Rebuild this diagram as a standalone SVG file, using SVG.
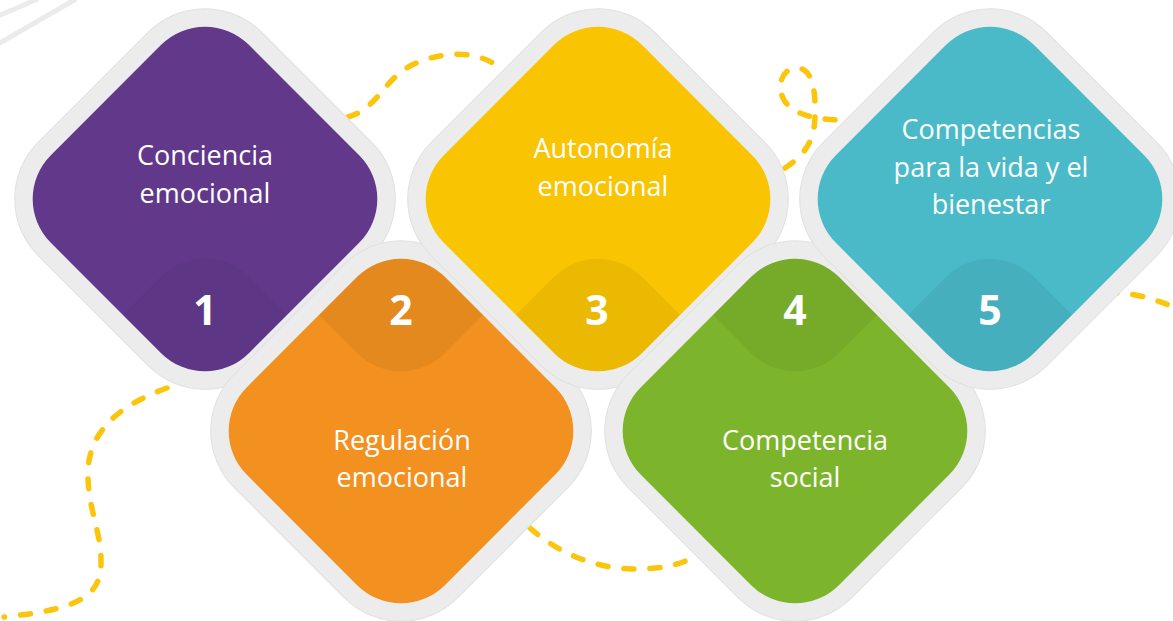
<svg xmlns="http://www.w3.org/2000/svg" width="1173" height="621" viewBox="0 0 1173 621">
<style>
.halo{fill:#ececec;stroke:#e1e1e1;stroke-width:1}
.lens{fill:#000;fill-opacity:0.055}
.lens.soft{fill-opacity:0.035}
.lbl{font-family:"Open Sans","Liberation Sans",sans-serif;font-size:27px;fill:#fff;text-anchor:middle}
.num{font-family:"Open Sans","Liberation Sans",sans-serif;font-size:41px;font-weight:bold;fill:#fff;text-anchor:middle}
.dash{fill:none;stroke:#fac50a;stroke-width:5.5;stroke-linecap:round;stroke-dasharray:10 16}
.deco{fill:none;stroke:#ebebeb;stroke-width:5}
</style>
<defs>
<rect id="shape" x="-140" y="-140" width="280" height="280" rx="62" ry="62" transform="rotate(45)"/>
<rect id="haloShape" x="-158" y="-158" width="316" height="316" rx="80" ry="80" transform="rotate(45)"/>
<clipPath id="c1"><use href="#shape" transform="translate(205,199)"/></clipPath>
<clipPath id="c2"><use href="#shape" transform="translate(401,431)"/></clipPath>
<clipPath id="c3"><use href="#shape" transform="translate(598,199)"/></clipPath>
<clipPath id="c4"><use href="#shape" transform="translate(795,431)"/></clipPath>
<clipPath id="c5"><use href="#shape" transform="translate(990,199)"/></clipPath>
</defs>
<rect width="1173" height="621" fill="#fff"/>
<g id="decor">
<line class="deco" x1="-2" y1="16" x2="38" y2="-1"/>
<line class="deco" x1="-2" y1="44" x2="76" y2="-1"/>
</g>
<g id="connectors">
<path class="dash" d="M348,117 C378,108 382,82 410,66 C440,50 482,50 500,69"/>
<path class="dash" d="M785,168 C805,155 815,140 815,115 C816,90 812,68 797,68 C782,68 776,86 784,100 C792,114 815,120 843,120"/>
<path class="dash" d="M167,388 C120,405 90,430 88,470 C87,510 102,530 101,565 C100,600 70,610 4,617"/>
<path class="dash" d="M530,528 C560,555 600,570 640,569 C665,568 680,565 693,557"/>
<path class="dash" d="M1107,293 C1130,292 1150,297 1176,308"/>
</g>
<g id="node1">
<use href="#haloShape" class="halo" transform="translate(205,199)"/>
<use href="#shape" fill="#61388a" transform="translate(205,199)"/>
<g clip-path="url(#c1)"><use href="#shape" class="lens soft" transform="translate(205,431)"/></g>
<text class="lbl" x="205" y="165">Conciencia</text>
<text class="lbl" x="205" y="203">emocional</text>
<text class="num" x="205" y="325">1</text>
</g>
<g id="node2">
<use href="#haloShape" class="halo" transform="translate(401,431)"/>
<use href="#shape" fill="#f29120" transform="translate(401,431)"/>
<g clip-path="url(#c2)"><use href="#shape" class="lens" transform="translate(401,199)"/></g>
<text class="lbl" x="402" y="450">Regulación</text>
<text class="lbl" x="402" y="487">emocional</text>
<text class="num" x="401" y="325">2</text>
</g>
<g id="node3">
<use href="#haloShape" class="halo" transform="translate(598,199)"/>
<use href="#shape" fill="#f9c402" transform="translate(598,199)"/>
<g clip-path="url(#c3)"><use href="#shape" class="lens" transform="translate(598,431)"/></g>
<text class="lbl" x="603" y="158">Autonomía</text>
<text class="lbl" x="603" y="196">emocional</text>
<text class="num" x="597" y="325">3</text>
</g>
<g id="node4">
<use href="#haloShape" class="halo" transform="translate(795,431)"/>
<use href="#shape" fill="#7cb52c" transform="translate(795,431)"/>
<g clip-path="url(#c4)"><use href="#shape" class="lens" transform="translate(795,199)"/></g>
<text class="lbl" x="805" y="450">Competencia</text>
<text class="lbl" x="805" y="487">social</text>
<text class="num" x="795" y="325">4</text>
</g>
<g id="node5">
<use href="#haloShape" class="halo" transform="translate(990,199)"/>
<use href="#shape" fill="#4abac8" transform="translate(990,199)"/>
<g clip-path="url(#c5)"><use href="#shape" class="lens" transform="translate(990,431)"/></g>
<text class="lbl" x="991" y="139">Competencias</text>
<text class="lbl" x="991" y="177">para la vida y el</text>
<text class="lbl" x="991" y="214">bienestar</text>
<text class="num" x="990" y="325">5</text>
</g>
</svg>
